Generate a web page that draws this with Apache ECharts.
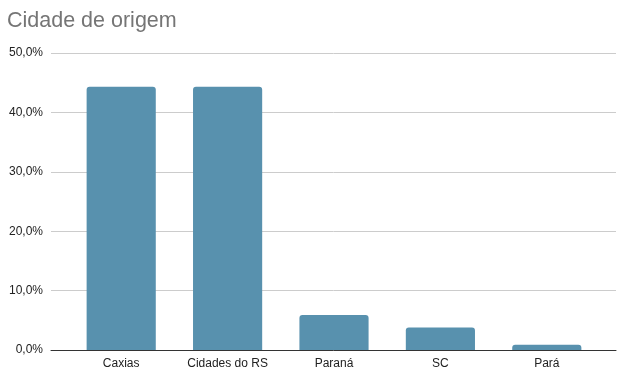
<!DOCTYPE html>
<html>
<head>
<meta charset="utf-8">
<script src="https://cdn.jsdelivr.net/npm/echarts@6/dist/echarts.min.js"></script>
<style>
    html, body { margin: 0; padding: 0; background: #fff; }
    #chart { width: 617px; height: 372px; }
</style>
</head>
<body>
<div id="chart"></div>
<script>
// dados
const categories = ['Caxias', 'Cidades do RS', 'Paraná', 'SC', 'Pará']
const percentValues = [44.3, 44.3, 5.9, 3.8, 0.9]
const yTicks = { min: 0, max: 50, interval: 10 }

const font = 'Liberation Sans, Arial, sans-serif'
const chart = echarts.init(document.getElementById('chart'), null, { renderer: 'canvas' })

chart.setOption({
    backgroundColor: '#fff',
    animation: false,
    title: {
        text: 'Cidade de origem',
        left: 7,
        top: 10,
        padding: 0,
        textStyle: {
            fontFamily: font,
            fontSize: 21.5,
            fontWeight: 'normal',
            color: '#757575'
        }
    },
    // grid 0: linhas de grade e eixo y; grid 1: barras
    grid: [
        { left: 51, right: 1, top: 53, bottom: 22 },
        { left: 68, right: 17, top: 53, bottom: 22 }
    ],
    xAxis: [
        {
            gridIndex: 0,
            type: 'value',
            min: 0,
            max: 1,
            axisLabel: { show: false },
            axisTick: { show: false },
            splitLine: { show: false },
            axisLine: { show: true, lineStyle: { color: '#333', width: 1 } }
        },
        {
            gridIndex: 1,
            type: 'category',
            data: categories,
            axisLine: { show: false },
            axisTick: { show: false },
            axisLabel: {
                fontFamily: font,
                fontSize: 12,
                color: '#222',
                margin: 8
            }
        }
    ],
    yAxis: [
        {
            gridIndex: 0,
            type: 'value',
            min: yTicks.min,
            max: yTicks.max,
            interval: yTicks.interval,
            axisLine: { show: false },
            axisTick: { show: false },
            axisLabel: {
                fontFamily: font,
                fontSize: 12,
                color: '#222',
                margin: 8,
                formatter: v => v.toFixed(1).replace('.', ',') + '%'
            },
            splitLine: { lineStyle: { color: '#ccc', width: 1 } }
        },
        {
            gridIndex: 1,
            type: 'value',
            min: yTicks.min,
            max: yTicks.max,
            interval: yTicks.interval,
            show: false
        }
    ],
    series: [
        {
            type: 'bar',
            xAxisIndex: 1,
            yAxisIndex: 1,
            data: percentValues,
            barWidth: '65%',
            itemStyle: {
                color: '#5891ae',
                borderRadius: [3, 3, 0, 0]
            }
        }
    ]
})
</script>
</body>
</html>
